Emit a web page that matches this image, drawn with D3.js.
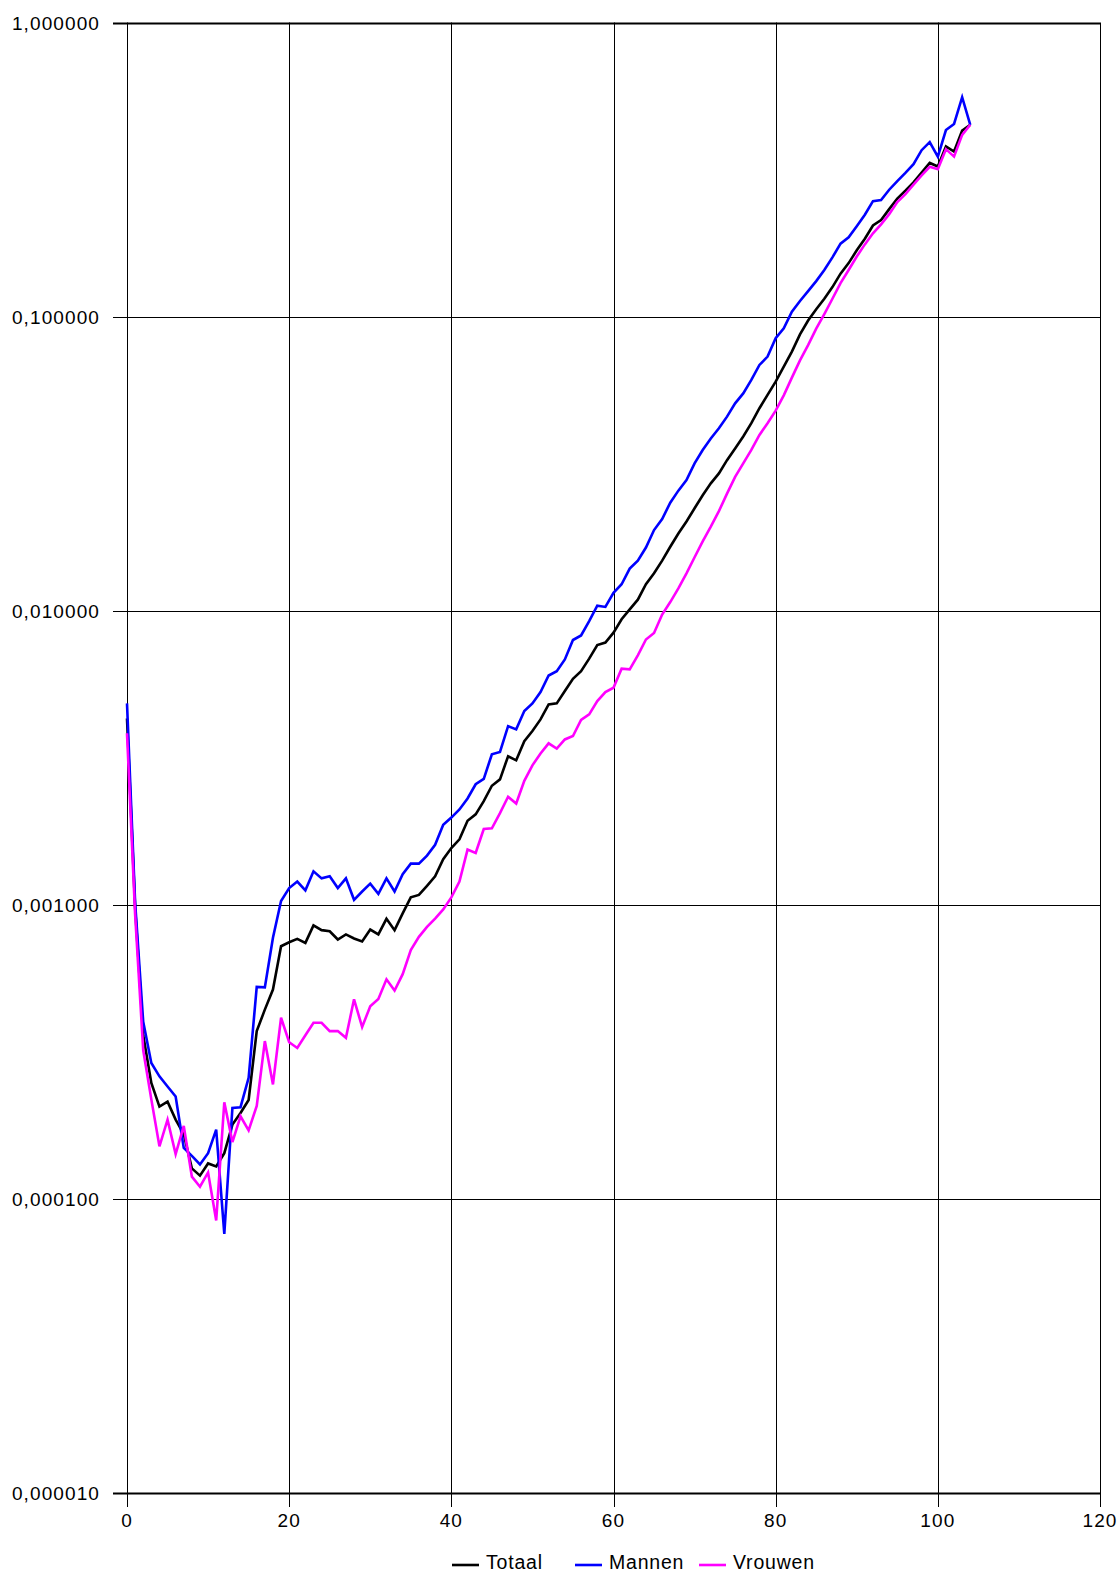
<!DOCTYPE html>
<html>
<head>
<meta charset="utf-8">
<script src="https://cdn.jsdelivr.net/npm/d3@7"></script>
<style>
	html, body { margin: 0; padding: 0; background: #fff; }
	svg { display: block; }
	text { font-family: "Liberation Sans", Arial, sans-serif; font-size: 19px; letter-spacing: 1.1px; fill: #000; }
</style>
</head>
<body>
<svg id="chart" width="1120" height="1577"></svg>
<script>
// leeftijd 0..104
const ages = d3.range(0, 105);

const totaal = [
	4.30e-3, 0.98e-3, 3.6e-4, 2.48e-4, 2.06e-4, 2.14e-4, 1.86e-4, 1.66e-4, 1.27e-4, 1.20e-4,
	1.32e-4, 1.29e-4, 1.43e-4, 1.79e-4, 1.96e-4, 2.17e-4, 3.72e-4, 4.40e-4, 5.15e-4, 7.23e-4,
	7.46e-4, 7.66e-4, 7.42e-4, 8.51e-4, 8.20e-4, 8.13e-4, 7.62e-4, 7.93e-4, 7.68e-4, 7.50e-4,
	8.24e-4, 7.93e-4, 8.96e-4, 8.20e-4, 9.35e-4, 1.06e-3, 1.08e-3, 1.16e-3, 1.25e-3, 1.43e-3,
	1.56e-3, 1.67e-3, 1.93e-3, 2.03e-3, 2.25e-3, 2.54e-3, 2.67e-3, 3.20e-3, 3.10e-3, 3.60e-3,
	3.90e-3, 4.27e-3, 4.80e-3, 4.84e-3, 5.33e-3, 5.87e-3, 6.23e-3, 6.87e-3, 7.64e-3, 7.79e-3,
	8.42e-3, 9.35e-3, 1.01e-2, 1.09e-2, 1.23e-2, 1.34e-2, 1.48e-2, 1.65e-2, 1.83e-2, 2.01e-2,
	2.23e-2, 2.47e-2, 2.71e-2, 2.93e-2, 3.25e-2, 3.56e-2, 3.91e-2, 4.34e-2, 4.88e-2, 5.42e-2,
	6.01e-2, 6.76e-2, 7.6e-2, 8.7e-2, 9.7e-2, 0.106, 0.115, 0.126, 0.140, 0.152,
	0.168, 0.184, 0.204, 0.213, 0.232, 0.252, 0.268, 0.286, 0.309, 0.333,
	0.324, 0.379, 0.364, 0.429, 0.449
];

const mannen = [
	4.84e-3, 1.02e-3, 4.0e-4, 2.9e-4, 2.61e-4, 2.41e-4, 2.23e-4, 1.49e-4, 1.40e-4, 1.31e-4,
	1.43e-4, 1.72e-4, 7.6e-5, 2.04e-4, 2.05e-4, 2.58e-4, 5.26e-4, 5.24e-4, 7.73e-4, 1.03e-3,
	1.14e-3, 1.20e-3, 1.12e-3, 1.30e-3, 1.23e-3, 1.25e-3, 1.14e-3, 1.23e-3, 1.04e-3, 1.11e-3,
	1.18e-3, 1.09e-3, 1.23e-3, 1.11e-3, 1.27e-3, 1.38e-3, 1.38e-3, 1.47e-3, 1.60e-3, 1.87e-3,
	1.98e-3, 2.11e-3, 2.30e-3, 2.57e-3, 2.68e-3, 3.25e-3, 3.31e-3, 4.05e-3, 3.95e-3, 4.56e-3,
	4.84e-3, 5.29e-3, 6.02e-3, 6.23e-3, 6.83e-3, 7.95e-3, 8.24e-3, 9.22e-3, 1.04e-2, 1.03e-2,
	1.15e-2, 1.23e-2, 1.39e-2, 1.48e-2, 1.64e-2, 1.88e-2, 2.05e-2, 2.33e-2, 2.56e-2, 2.78e-2,
	3.17e-2, 3.52e-2, 3.85e-2, 4.17e-2, 4.57e-2, 5.07e-2, 5.48e-2, 6.09e-2, 6.85e-2, 7.31e-2,
	8.44e-2, 9.13e-2, 0.104, 0.113, 0.122, 0.132, 0.144, 0.159, 0.177, 0.186,
	0.203, 0.222, 0.247, 0.249, 0.270, 0.289, 0.308, 0.330, 0.368, 0.392,
	0.350, 0.431, 0.452, 0.557, 0.449
];

const vrouwen = [
	3.83e-3, 0.93e-3, 3.2e-4, 2.18e-4, 1.51e-4, 1.86e-4, 1.42e-4, 1.77e-4, 1.19e-4, 1.10e-4,
	1.23e-4, 8.45e-5, 2.13e-4, 1.56e-4, 1.91e-4, 1.71e-4, 2.07e-4, 3.44e-4, 2.45e-4, 4.13e-4,
	3.41e-4, 3.26e-4, 3.60e-4, 3.97e-4, 3.97e-4, 3.72e-4, 3.72e-4, 3.53e-4, 4.77e-4, 3.84e-4,
	4.52e-4, 4.78e-4, 5.58e-4, 5.11e-4, 5.81e-4, 7.01e-4, 7.78e-4, 8.41e-4, 8.98e-4, 9.64e-4,
	1.06e-3, 1.20e-3, 1.54e-3, 1.50e-3, 1.81e-3, 1.82e-3, 2.05e-3, 2.33e-3, 2.21e-3, 2.64e-3,
	2.98e-3, 3.27e-3, 3.54e-3, 3.40e-3, 3.65e-3, 3.75e-3, 4.25e-3, 4.44e-3, 4.93e-3, 5.29e-3,
	5.47e-3, 6.35e-3, 6.32e-3, 7.05e-3, 7.98e-3, 8.4e-3, 9.7e-3, 1.07e-2, 1.19e-2, 1.34e-2,
	1.52e-2, 1.72e-2, 1.93e-2, 2.18e-2, 2.50e-2, 2.85e-2, 3.17e-2, 3.52e-2, 3.96e-2, 4.34e-2,
	4.79e-2, 5.4e-2, 6.2e-2, 7.1e-2, 8.0e-2, 9.1e-2, 0.102, 0.115, 0.130, 0.144,
	0.160, 0.176, 0.192, 0.206, 0.223, 0.245, 0.261, 0.281, 0.302, 0.323,
	0.317, 0.371, 0.350, 0.415, 0.449
];

const xTicks = [0, 20, 40, 60, 80, 100, 120];
const yTicks = [1e-5, 1e-4, 1e-3, 1e-2, 1e-1, 1];

const series = [
	{ name: "Totaal", color: "#000000", values: totaal },
	{ name: "Mannen", color: "#0000ff", values: mannen },
	{ name: "Vrouwen", color: "#ff00ff", values: vrouwen },
];

const svg = d3.select("#chart");
const plot = { left: 127, right: 1100, top: 22.5, bottom: 1493 };

const nl = d3.formatLocale({ decimal: ",", thousands: ".", grouping: [3], currency: ["€", ""] });
const fmtY = nl.format(".6f");

const x = d3.scaleLinear().domain([0, 120]).range([plot.left, plot.right]);
const y = d3.scaleLog().domain([1e-5, 1]).range([plot.bottom, plot.top]);

// raster: verticale lijnen met tickje onder de as
svg.append("g").selectAll("line")
	.data(xTicks)
	.join("line")
	.attr("x1", (d) => Math.round(x(d)) + 0.5).attr("x2", (d) => Math.round(x(d)) + 0.5)
	.attr("y1", plot.top).attr("y2", plot.bottom + 14)
	.attr("stroke", "#000").attr("stroke-width", 1);

// raster: horizontale lijnen met tickje links van de as
svg.append("g").selectAll("line")
	.data(yTicks)
	.join("line")
	.attr("x1", plot.left - 14).attr("x2", plot.right)
	.attr("y1", (d) => Math.round(y(d)) + 0.5).attr("y2", (d) => Math.round(y(d)) + 0.5)
	.attr("stroke", "#000")
	.attr("stroke-width", (d) => (d === 1 || d === 1e-5 ? 2 : 1));

// tick labels
svg.append("g").selectAll("text")
	.data(xTicks)
	.join("text")
	.attr("x", (d) => x(d))
	.attr("y", plot.bottom + 34)
	.attr("text-anchor", "middle")
	.text((d) => d3.format("d")(d));

svg.append("g").selectAll("text")
	.data(yTicks)
	.join("text")
	.attr("x", plot.left - 27)
	.attr("y", (d) => y(d) + 7)
	.attr("text-anchor", "end")
	.text((d) => fmtY(d));

const line = d3.line()
	.x((d, i) => x(ages[i]))
	.y((d) => y(d));

series.forEach((s) => {
	svg.append("path")
		.datum(s.values)
		.attr("fill", "none")
		.attr("stroke", s.color)
		.attr("stroke-width", 2.6)
		.attr("d", line);
});

// legenda
const legendX = [452, 575, 699];
series.forEach((s, i) => {
	svg.append("line")
		.attr("x1", legendX[i]).attr("x2", legendX[i] + 27)
		.attr("y1", 1565).attr("y2", 1565)
		.attr("stroke", s.color).attr("stroke-width", 2.6);
	svg.append("text")
		.attr("x", legendX[i] + 34)
		.attr("y", 1569)
		.style("font-size", "19.5px")
		.style("letter-spacing", "0.8px")
		.text(s.name);
});
</script>
</body>
</html>
